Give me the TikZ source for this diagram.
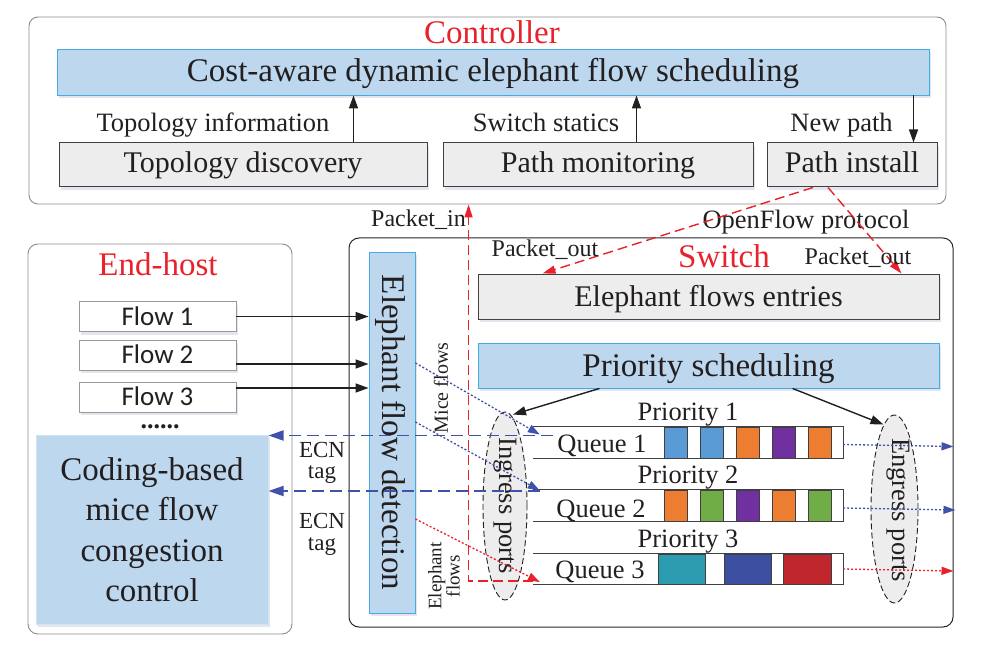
\documentclass[tikz,border=0pt]{standalone}
\usepackage{fontspec}
\setmainfont{Liberation Serif}
\newfontfamily\flowfont{Carlito}
\usetikzlibrary{arrows.meta,shapes.geometric,calc,shadows}
\definecolor{bluefill}{HTML}{BDD7EE}
\definecolor{blueedge}{HTML}{45ACE2}
\definecolor{grayfill}{HTML}{EDEDED}
\definecolor{titlered}{HTML}{E8212B}
\definecolor{ecnblue}{HTML}{3F51A8}
\definecolor{txt}{HTML}{231F20}
\definecolor{qblue}{HTML}{5B9BD5}
\definecolor{qorange}{HTML}{ED7D31}
\definecolor{qpurple}{HTML}{7030A0}
\definecolor{qgreen}{HTML}{70AD47}
\definecolor{qteal}{HTML}{2C9DB0}
\definecolor{qdblue}{HTML}{3C4FA0}
\definecolor{qred}{HTML}{C0272D}
\newcommand\fszA{\fontsize{33}{40.5}\selectfont}
\newcommand\fszB{\fontsize{30}{36}\selectfont}
\newcommand\fszC{\fontsize{26.5}{30}\selectfont}
\newcommand\fszD{\fontsize{27}{30}\selectfont}
\newcommand\fszE{\fontsize{23}{21}\selectfont}
\newcommand\fszF{\fontsize{20}{22}\selectfont}
\newcommand\fszG{\fontsize{24}{26}\selectfont}
\newcommand\fszH{\fontsize{19}{17}\selectfont}
\begin{document}
\begin{tikzpicture}[x=1pt,y=-1pt,
  every node/.style={text=txt, inner sep=0pt},
  softshadow/.style={drop shadow={shadow xshift=2pt, shadow yshift=-3pt, opacity=0.1, fill=blue!30!black}},
  outerbox/.style={draw=black!45, line width=0.9pt, rounded corners=9},
  bluebox/.style={draw=blueedge, fill=bluefill, line width=0.9pt, softshadow},
  graybox/.style={draw=black!75, fill=grayfill, line width=1pt, softshadow},
  flowbox/.style={draw=black!40, fill=white, line width=0.9pt, softshadow},
  grytext/.style={text height=22pt, text depth=6pt},
  bigtext/.style={text height=26pt, text depth=6pt},
  portell/.style={ellipse, draw=txt, fill=grayfill, line width=0.9pt, dash pattern=on 6pt off 3pt},
  arr/.style={draw=txt, line width=1.4pt, -{Triangle[length=13pt,width=9pt]}},
  reddash/.style={draw=titlered, line width=1.4pt, dash pattern=on 10pt off 5pt, -{Triangle[length=13pt,width=8pt]}},
  ecnline/.style={draw=ecnblue, line width=1.8pt, dash pattern=on 12pt off 6pt, -{Triangle[length=15pt,width=10pt]}},
  dotblue/.style={draw=ecnblue, line width=1.3pt, dash pattern=on 2pt off 2pt, -{Triangle[length=12pt,width=8pt]}},
  dotred/.style={draw=titlered, line width=1.3pt, dash pattern=on 2pt off 2pt, -{Triangle[length=12pt,width=8pt]}},
  qline/.style={draw=black!75, line width=1pt},
  qblock/.style={draw=black!75, line width=1pt},
  redtitle/.style={text=titlered, font=\fszA, anchor=base}
]
\useasboundingbox (0,0) rectangle (995,652);

% ---------------- Controller ----------------
\node[outerbox, minimum width=917, minimum height=187] (ctrl) at (487.5,110.5) {};
\node[redtitle] (ctrlT) at (492,44) {Controller};
\node[bluebox, bigtext, minimum width=872, minimum height=46, font=\fszA] (sched) at (493,72) {Cost-aware dynamic elephant flow scheduling};
\node[graybox, grytext, minimum width=368, minimum height=44, font=\fszB] (topo) at (243,165) {Topology discovery};
\node[graybox, grytext, minimum width=310, minimum height=44, font=\fszB] (pmon) at (598,165) {Path monitoring};
\node[graybox, grytext, minimum width=170, minimum height=44, font=\fszB] (pinst) at (852,165) {Path install};
\node[anchor=base, font=\fszC] (lTopo) at (213,132) {Topology information};
\node[anchor=base, font=\fszC] (lStat) at (546,132) {Switch statics};
\node[anchor=base, font=\fszC] (lNew) at (841.5,132) {New path};
\coordinate (a1) at ($(topo.north east)+(-74,0)$);
\coordinate (a2) at ($(pmon.north east)+(-117,0)$);
\coordinate (a3) at ($(pinst.north east)+(-24,0)$);
\draw[arr] (a1) -- (a1 |- sched.south);
\draw[arr] (a2) -- (a2 |- sched.south);
\draw[arr] (a3 |- sched.south) -- (a3);

% ---------------- End-host ----------------
\node[outerbox, rounded corners=10, minimum width=264, minimum height=390] (eh) at (160,439) {};
\node[redtitle] (ehT) at (158,276) {End-host};
\node[flowbox, text height=21pt, text depth=4pt, minimum width=157, minimum height=30, font=\flowfont\fszD] (f1) at (157.5,316.5) {Flow 1};
\node[flowbox, text height=21pt, text depth=4pt, minimum width=157, minimum height=30, font=\flowfont\fszD] (f2) at (157.5,355) {Flow 2};
\node[flowbox, text height=21pt, text depth=4pt, minimum width=157, minimum height=30, font=\flowfont\fszD] (f3) at (157.5,397) {Flow 3};
\node[anchor=base, text height=4pt, text depth=0pt, font=\fontsize{26}{28}\selectfont\bfseries] (dots) at (160,428) {......};
\node[draw=bluefill!70!white, fill=bluefill, line width=1pt, softshadow, minimum width=232, minimum height=189, align=center, font=\fszA] (code) at (152,529.5) {Coding-based\\mice flow\\congestion\\control};

% ---------------- Switch ----------------
\node[draw=black!85, line width=1pt, rounded corners=10, minimum width=604, minimum height=389] (sw) at (651,432.5) {};
\node[redtitle] (swT) at (724,267) {Switch};
\node[bluebox, minimum width=46, minimum height=361] (det) at (392,432.5) {};
\node[rotate=-90, bigtext, font=\fszA] (detT) at (det.center) {Elephant flow detection};
\node[graybox, text height=24pt, text depth=5pt, minimum width=461, minimum height=45, font=\fszB] (ent) at (708.5,296.5) {Elephant flows entries};
\node[bluebox, text height=28pt, text depth=6pt, minimum width=461, minimum height=45, font=\fszA] (prio) at (708.5,365.5) {Priority scheduling};

\node[portell, minimum width=44, minimum height=188] (ing) at (505,506) {};
\node[rotate=-90, font=\fszC] (ingT) at (505,506) {Ingress ports};
\node[portell, minimum width=47, minimum height=188] (egr) at (894.5,509) {};
\node[rotate=-90, font=\fszC] (egrT) at (898,510) {Engress ports};

% queues
\node[minimum width=310, minimum height=31] (q1) at (688,442.5) {};
\node[minimum width=310, minimum height=31] (q2) at (688,505.5) {};
\node[minimum width=310, minimum height=30] (q3) at (688,569) {};
\foreach \q in {q1,q2,q3}
  \draw[qline] (\q.north west) -- (\q.north east) -- (\q.south east) -- (\q.south west);
\foreach \x/\c in {664/qblue,700/qblue,736/qorange,772/qpurple,808/qorange}
  \draw[qblock, fill=\c] (\x,427) rectangle ++(23,31);
\foreach \x/\c in {664/qorange,700/qgreen,736/qpurple,772/qorange,808/qgreen}
  \draw[qblock, fill=\c] (\x,490) rectangle ++(23,31);
\foreach \x/\w/\c in {658/47/qteal,724/47/qdblue,783/48/qred}
  \draw[qblock, fill=\c] (\x,554) rectangle ++(\w,30);
\node[anchor=base, font=\fszC] (q1T) at (602,452) {Queue 1};
\node[anchor=base, font=\fszC] (q2T) at (601,517) {Queue 2};
\node[anchor=base, font=\fszC] (q3T) at (600,578) {Queue 3};
\node[anchor=base, font=\fszC] (p1T) at (688,420) {Priority 1};
\node[anchor=base, font=\fszC] (p2T) at (688,483) {Priority 2};
\node[anchor=base, font=\fszC] (p3T) at (688,547) {Priority 3};

% flows into detection
\draw[arr] (f1.east) -- (f1.east -| det.west);
\draw[arr] ($(f2.east)+(0,9)$) -- ($(f2.east -| det.west)+(0,9)$);
\draw[arr] ($(f3.east)+(0,-9)$) -- ($(f3.east -| det.west)+(0,-9)$);

% mice / elephant flows
\draw[dotblue] ($(det.east)+(0,-69.5)$) -- ($(q1.west)+(7,-8)$);
\draw[dotblue] ($(det.east)+(0,-10.5)$) -- ($(q2.west)+(7,-15)$);
\draw[dotred] ($(det.east)+(0,86.5)$) -- ($(q3.west)+(7,13)$);
\node[rotate=90, font=\fszF] (miceT) at (441,388) {Mice flows};
\node[rotate=90, align=center, font=\fszH] (eleT) at (444,576) {Elephant\\flows};

% ECN feedback
\draw[ecnline] ($(q1.west)+(20,-7)$) -- ($(q1.west -| code.east)+(0,-7)$);
\draw[ecnline] ($(q2.west)+(7,-14.5)$) -- ($(q2.west -| code.east)+(0,-14.5)$);
\node[anchor=base, font=\fszE] (ecn1a) at (322,457) {ECN};
\node[anchor=base, font=\fszE] (ecn1b) at (322,478) {tag};
\node[anchor=base, font=\fszE] (ecn2a) at (322,528) {ECN};
\node[anchor=base, font=\fszE] (ecn2b) at (322,550) {tag};

% OpenFlow signalling
\draw[reddash] ($(q3.west)+(0,12)$) -| ($(ctrl.south west)+(440,0)$);
\node[anchor=base east, font=\fszG] (pinT) at (466,227) {Packet\_in};
\node[anchor=base, font=\fszC] (ofT) at (806,229) {OpenFlow protocol};
\draw[reddash] ($(pinst.south)+(-39,0)$) -- ($(ent.north west)+(65,0)$);
\draw[reddash] ($(pinst.south)+(-24,0)$) -- ($(ent.north east)+(-38,0)$);
\node[anchor=base, font=\fszG] (po1T) at (545,257) {Packet\_out};
\node[anchor=base, font=\fszG] (po2T) at (858,265) {Packet\_out};

% priority scheduling to ports
\draw[arr] ($(prio.south west)+(122,0)$) -- ($(ing.north)+(8,3)$);
\draw[arr] ($(prio.south west)+(315,0)$) -- ($(egr.north)+(-11,10)$);

% egress
\draw[dotblue] ($(q1.east)+(0,2)$) -- ($(q1.east -| sw.east)+(0,4)$);
\draw[dotblue] ($(q2.east)+(0,2.5)$) -- ($(q2.east -| sw.east)+(2,4.5)$);
\draw[dotred] (q3.east) -- ($(q3.east -| sw.east)+(0,2)$);
\end{tikzpicture}
\end{document}
